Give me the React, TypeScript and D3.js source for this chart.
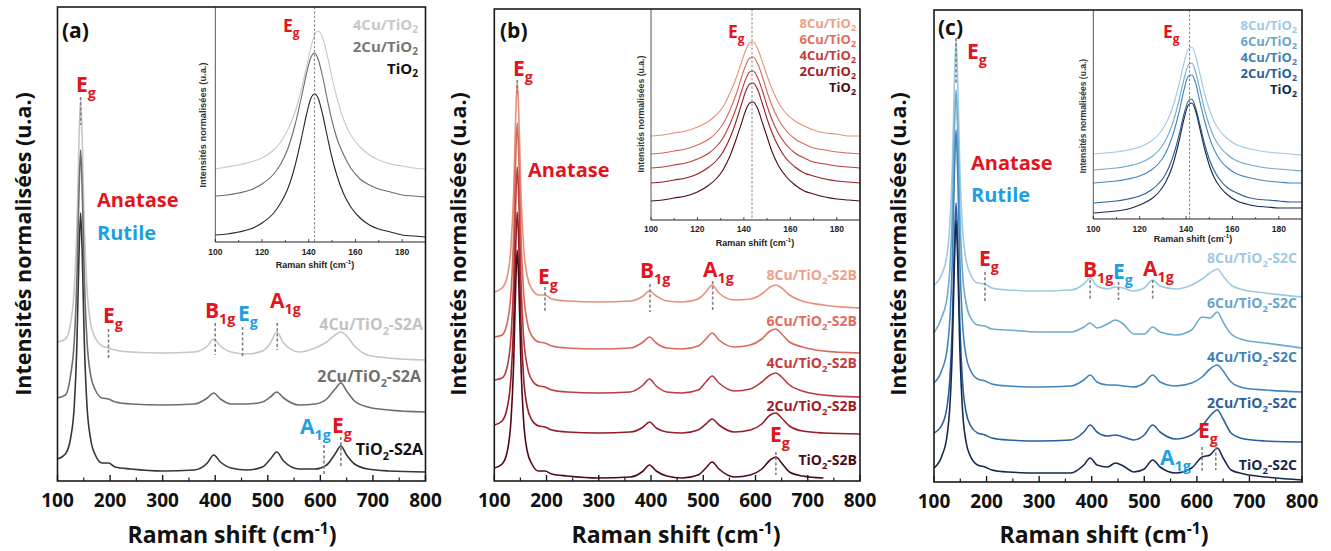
import React from "react";
import * as d3 from "d3";

// ---------------- data ----------------
const xTicks = [100, 200, 300, 400, 500, 600, 700, 800];
const xMinorTicks = [150, 250, 350, 450, 550, 650, 750];
const insetTicks = [100, 120, 140, 160, 180];
const insetMinorTicks = [110, 130, 150, 170];

// wavenumbers (cm-1) of the sampled points, panels (a) and (b)
const gridAB = [100, 115, 125, 132, 137, 141, 144, 147, 151, 156, 163, 172, 185, 197, 210, 240, 300, 360, 385, 397, 410, 430, 460, 490, 505, 517, 530, 560, 590, 612, 628, 639, 650, 665, 690, 730, 800];
// panel (c)
const gridC = [100, 115, 125, 130, 135, 139, 142, 145, 149, 154, 161, 170, 183, 197, 210, 240, 300, 360, 385, 397, 410, 430, 445, 460, 480, 500, 516, 530, 560, 590, 610, 625, 639, 650, 665, 690, 730, 800];
// insets
const insetGrid = [100, 105, 110, 115, 120, 125, 128, 131, 134, 137, 139, 141, 142.5, 144, 146, 148, 150, 152, 155, 158, 162, 166, 170, 175, 180, 185, 190];

// panel (a) – stacked normalised intensities
const cu4A = [139, 142, 158, 193, 256, 342, 381, 342, 256, 193, 158, 143, 135, 133, 131, 129, 128, 129, 135, 142, 135, 129, 127, 130, 138, 149, 138, 129, 133, 139, 146, 149, 145, 135, 126, 123, 121];
const cu2A = [83, 86, 106, 141, 204, 291, 331, 291, 204, 141, 106, 91, 83, 82, 79, 77, 76, 77, 83, 88, 82, 77, 77, 79, 84, 89, 83, 76, 77, 82, 92, 98, 90, 80, 74, 71, 69];
const tio2A = [22, 27, 43, 76, 139, 228, 268, 228, 139, 76, 42, 26, 18, 18, 14, 12, 10, 11, 18, 26, 19, 13, 11, 14, 22, 29, 20, 12, 12, 16, 27, 35, 26, 17, 12, 10, 9];
const cu4Ai = [73, 75, 77, 80, 84, 92, 100, 112, 129, 154, 175, 195, 207, 211, 204, 186, 164, 145, 122, 107, 95, 87, 82, 78, 76, 74, 73];
const cu2Ai = [46, 47, 49, 52, 58, 68, 78, 93, 116, 146, 168, 185, 189, 183, 165, 142, 121, 104, 87, 74, 63, 57, 53, 50, 47, 46, 45];
const tio2Ai = [7, 8, 10, 13, 19, 29, 39, 53, 75, 105, 127, 144, 148, 144, 127, 105, 84, 67, 48, 35, 24, 17, 13, 10, 7, 6, 5];

// panel (b)
const cu8B = [189, 193, 205, 235, 289, 365, 399, 365, 289, 235, 205, 192, 186, 186, 182, 180, 179, 180, 185, 190, 185, 180, 179, 182, 189, 196, 188, 181, 182, 187, 194, 196, 193, 186, 180, 176, 173];
const cu6B = [144, 146, 159, 189, 245, 323, 358, 323, 245, 189, 159, 145, 139, 138, 135, 133, 132, 133, 139, 144, 138, 133, 132, 135, 142, 148, 141, 134, 136, 142, 150, 152, 147, 139, 134, 130, 128];
const cu4B = [101, 103, 115, 145, 201, 279, 314, 279, 201, 145, 115, 101, 95, 94, 91, 89, 88, 89, 96, 102, 95, 89, 88, 91, 99, 105, 98, 90, 92, 99, 106, 108, 104, 96, 90, 86, 84];
const cu2B = [56, 60, 74, 104, 158, 235, 269, 235, 158, 104, 74, 61, 55, 54, 51, 49, 48, 49, 54, 59, 53, 49, 48, 51, 57, 62, 56, 49, 51, 57, 66, 68, 63, 55, 50, 48, 47];
const tio2B: (number | null)[] = [13, 17, 30, 61, 117, 196, 231, 196, 117, 61, 30, 17, 10, 10, 7, 5, 3, 4, 10, 16, 10, 5, 3, 6, 13, 19, 12, 4, 6, 12, 21, 24, 18, 9, 5, 3, null];
const cu8Bi = [84, 85, 87, 89, 93, 99, 105, 113, 127, 144, 158, 171, 177, 178, 171, 158, 144, 132, 117, 107, 99, 94, 90, 87, 86, 84, 84];
const cu6Bi = [66, 67, 69, 71, 75, 81, 87, 96, 110, 128, 143, 156, 162, 163, 156, 143, 128, 115, 100, 90, 81, 76, 72, 70, 68, 67, 66];
const cu4Bi = [52, 53, 55, 57, 61, 67, 73, 82, 96, 114, 129, 142, 148, 149, 142, 129, 114, 101, 86, 76, 67, 62, 58, 56, 54, 53, 52];
const cu2Bi = [37, 38, 40, 42, 46, 53, 59, 68, 82, 101, 116, 130, 136, 137, 130, 116, 101, 88, 73, 62, 53, 47, 44, 41, 39, 38, 37];
const tio2Bi = [19, 20, 22, 24, 28, 35, 41, 50, 64, 83, 97, 111, 117, 118, 111, 97, 83, 69, 54, 44, 35, 29, 26, 23, 21, 20, 19];

// panel (c)
const cu8C = [197, 208, 228, 256, 317, 403, 442, 403, 317, 256, 222, 207, 199, 198, 194, 192, 191, 192, 198, 204, 196, 193, 195, 194, 191, 194, 202, 196, 193, 197, 203, 209, 213, 206, 197, 192, 189, 185];
const cu6C = [149, 165, 185, 211, 271, 354, 392, 354, 271, 211, 179, 164, 157, 156, 153, 152, 150, 150, 155, 159, 154, 158, 162, 158, 148, 148, 155, 150, 147, 152, 165, 164, 170, 160, 148, 142, 139, 134];
const cu4C = [99, 112, 133, 161, 224, 311, 352, 311, 224, 161, 126, 111, 103, 101, 98, 96, 95, 96, 102, 107, 100, 97, 97, 96, 95, 99, 107, 100, 96, 99, 105, 113, 117, 111, 100, 94, 92, 90];
const cu2C = [49, 57, 76, 102, 161, 242, 279, 242, 161, 102, 70, 56, 49, 47, 44, 42, 41, 42, 50, 57, 50, 46, 47, 45, 42, 47, 57, 50, 43, 47, 56, 66, 72, 63, 49, 43, 41, 40];
const tio2C = [14, 26, 47, 74, 136, 223, 262, 223, 136, 74, 40, 25, 17, 15, 12, 10, 9, 9, 17, 24, 17, 15, 19, 16, 10, 13, 22, 15, 9, 14, 25, 27, 34, 24, 12, 8, 5, 2];
const cu8Ci = [65, 66, 67, 69, 72, 78, 84, 94, 110, 135, 155, 170, 172, 164, 145, 125, 110, 98, 87, 80, 74, 71, 69, 67, 66, 65, 64];
const cu6Ci = [49, 50, 51, 53, 56, 62, 68, 78, 94, 119, 139, 154, 156, 148, 129, 109, 94, 82, 71, 64, 58, 55, 53, 51, 50, 49, 48];
const cu4Ci = [36, 37, 38, 40, 43, 49, 55, 65, 82, 107, 128, 143, 144, 137, 117, 98, 82, 70, 58, 51, 45, 42, 40, 38, 37, 36, 36];
const cu2Ci = [16, 17, 18, 20, 23, 29, 35, 44, 60, 84, 104, 118, 120, 112, 94, 75, 60, 49, 38, 31, 26, 22, 20, 19, 18, 17, 17];
const tio2Ci = [6, 7, 8, 10, 14, 20, 26, 36, 52, 78, 99, 114, 116, 109, 90, 70, 54, 42, 31, 24, 18, 15, 13, 12, 11, 11, 11];

// ---------------- styles ----------------
const MAIN = "'Open Sans', 'Noto Sans', 'DejaVu Sans', sans-serif";
const SMALL = "'Liberation Sans', Arial, sans-serif";
const RED = "#e3141d";
const BLUE = "#1f9fe2";
const DASH = "#808080";

const colorsA = ["#c6c6c6", "#6e6e6e", "#363636"];
const colorsB = ["#e8907a", "#d8685a", "#bb3c3c", "#961c26", "#4e0a18"];
const colorsC = ["#9ccae2", "#6caace", "#4185bd", "#2a5f9c", "#15294f"];

type Part = { t: string; s?: "sub" | "sup" };

function Rich(props: { x: number; y: number; parts: Part[]; size: number; fill: string; anchor?: string; family?: string; weight?: number; subDrop?: number }) {
  const { x, y, parts, size, fill, anchor = "start", family = MAIN, weight = 700, subDrop = 0.3 } = props;
  let shift = 0;
  const spans = parts.map((p, i) => {
    const target = p.s === "sub" ? size * subDrop : p.s === "sup" ? -size * 0.4 : 0;
    const dy = target - shift;
    shift = target;
    return (
      <tspan key={i} dy={dy} fontSize={p.s ? size * 0.68 : size}>
        {p.t}
      </tspan>
    );
  });
  return (
    <text x={x} y={y} fill={fill} fontSize={size} fontWeight={weight} fontFamily={family} textAnchor={anchor as any}>
      {spans}
    </text>
  );
}

const sym = (b: string, s: string): Part[] => [{ t: b }, { t: s, s: "sub" }];
const tiLab = (pre: string, post: string): Part[] => [{ t: pre + "TiO" }, { t: "2", s: "sub" }, { t: post }];
const ramanTitle: Part[] = [{ t: "Raman shift (cm" }, { t: "-1", s: "sup" }, { t: ")" }];

function DashV({ x, y1, y2 }: { x: number; y1: number; y2: number }) {
  return <line x1={x} x2={x} y1={y1} y2={y2} stroke={DASH} strokeWidth={1.6} strokeDasharray="3,2.2" />;
}

interface Layout {
  x0: number; x1: number; top: number; bottom: number;
  ix0: number; ibottom: number;
  iTickY: number; iTitleY: number; iTitleX: number; iYTitleX: number; iYTitleY: number; iYSize: number;
  yTitleX: number; xTitleX: number;
}

function Panel(p: {
  L: Layout; grid: number[]; series: (number | null)[][]; colors: string[];
  iSeries: number[][]; iColors: string[]; iDash: number;
  children: (xs: d3.ScaleLinear<number, number>) => React.ReactNode;
}) {
  const { L } = p;
  const xs = d3.scaleLinear().domain([100, 800]).range([L.x0, L.x1]);
  const ys = d3.scaleLinear().domain([0, L.bottom - L.top]).range([L.bottom, L.top]);
  const ixs = d3.scaleLinear().domain([100, 190]).range([L.ix0, L.x1]);
  const iys = d3.scaleLinear().domain([0, L.ibottom - L.top]).range([L.ibottom, L.top]);
  const mainLine = d3
    .line<number | null>()
    .defined((v) => v !== null)
    .x((_, j) => xs(p.grid[j]))
    .y((v) => ys(v as number))
    .curve(d3.curveMonotoneX);
  const insetLine = d3
    .line<number>()
    .x((_, j) => ixs(insetGrid[j]))
    .y((v) => iys(v))
    .curve(d3.curveMonotoneX);
  return (
    <g>
      {/* inset */}
      {p.iSeries.map((s, i) => (
        <path key={"i" + i} d={insetLine(s) || ""} fill="none" stroke={p.iColors[i]} strokeWidth={1.1} />
      ))}
      <line x1={ixs(p.iDash)} x2={ixs(p.iDash)} y1={L.top} y2={L.ibottom} stroke="#777" strokeWidth={0.9} strokeDasharray="2.5,1.8" />
      <line x1={L.ix0} x2={L.ix0} y1={L.top} y2={L.ibottom} stroke="#555" strokeWidth={1} />
      <line x1={L.ix0} x2={L.x1} y1={L.ibottom} y2={L.ibottom} stroke="#222" strokeWidth={1} />
      {insetTicks.map((t) => (
        <line key={"it" + t} x1={ixs(t)} x2={ixs(t)} y1={L.ibottom} y2={L.ibottom - 3} stroke="#222" strokeWidth={0.8} />
      ))}
      {insetMinorTicks.map((t) => (
        <line key={"imt" + t} x1={ixs(t)} x2={ixs(t)} y1={L.ibottom} y2={L.ibottom - 2} stroke="#222" strokeWidth={0.8} />
      ))}
      {insetTicks.map((t) => (
        <text key={"itl" + t} x={ixs(t)} y={L.iTickY} fontSize={8.5} fontWeight={700} fontFamily={SMALL} fill="#222" textAnchor="middle">
          {t}
        </text>
      ))}
      <Rich x={L.iTitleX} y={L.iTitleY} parts={ramanTitle} size={9} fill="#222" anchor="middle" family={SMALL} />
      <text
        transform={`translate(${L.iYTitleX},${L.iYTitleY}) rotate(-90)`}
        textAnchor="middle"
        dominantBaseline="central"
        fontSize={L.iYSize}
        fontWeight={700}
        fontFamily={SMALL}
        fill="#333"
      >
        Intensités normalisées (u.a.)
      </text>

      {/* main spectra */}
      {p.series.map((s, i) => (
        <path key={"m" + i} d={mainLine(s) || ""} fill="none" stroke={p.colors[i]} strokeWidth={1.6} strokeLinejoin="round" />
      ))}

      {/* frame & axis */}
      <rect x={L.x0} y={L.top} width={L.x1 - L.x0} height={L.bottom - L.top} fill="none" stroke="#1a1a1a" strokeWidth={1.6} />
      {xTicks.map((t) => (
        <line key={"t" + t} x1={xs(t)} x2={xs(t)} y1={L.bottom} y2={L.bottom - 6} stroke="#1a1a1a" strokeWidth={1.4} />
      ))}
      {xMinorTicks.map((t) => (
        <line key={"mt" + t} x1={xs(t)} x2={xs(t)} y1={L.bottom} y2={L.bottom - 3.5} stroke="#1a1a1a" strokeWidth={1.2} />
      ))}
      {xTicks.map((t) => (
        <text key={"tl" + t} x={xs(t)} y={L.bottom + 26} fontSize={19} fontWeight={700} fontFamily={MAIN} textAnchor="middle" fill="#111">
          {t}
        </text>
      ))}
      <Rich x={L.xTitleX} y={543} parts={ramanTitle} size={23} fill="#111" anchor="middle" />
      <text
        transform={`translate(${L.yTitleX},244) rotate(-90)`}
        textAnchor="middle"
        dominantBaseline="central"
        fontSize={21.5}
        fontWeight={700}
        fontFamily={MAIN}
        fill="#111"
      >
        Intensités normalisées (u.a.)
      </text>
      {p.children(xs)}
    </g>
  );
}

const layoutA: Layout = {
  x0: 57.5, x1: 425.5, top: 7, bottom: 481, ix0: 215.3, ibottom: 242,
  iTickY: 255, iTitleY: 268, iTitleX: 315, iYTitleX: 202.5, iYTitleY: 125, iYSize: 9.3,
  yTitleX: 22, xTitleX: 232,
};
const layoutB: Layout = {
  x0: 494.3, x1: 860, top: 9, bottom: 481, ix0: 651, ibottom: 220,
  iTickY: 232, iTitleY: 246, iTitleX: 755, iYTitleX: 640.5, iYTitleY: 114, iYSize: 8.7,
  yTitleX: 457, xTitleX: 676,
};
const layoutC: Layout = {
  x0: 934, x1: 1302, top: 10, bottom: 482, ix0: 1093.3, ibottom: 219,
  iTickY: 231.5, iTitleY: 242, iTitleX: 1193, iYTitleX: 1083, iYTitleY: 116, iYSize: 8.5,
  yTitleX: 897, xTitleX: 1104,
};

export default function App() {
  return (
    <svg width={1331} height={551} style={{ position: "absolute", left: 0, top: 0, background: "#fff" }}>
      {/* ---------- (a) ---------- */}
      <Panel
        L={layoutA}
        grid={gridAB}
        series={[cu4A, cu2A, tio2A]}
        colors={colorsA}
        iSeries={[cu4Ai, cu2Ai, tio2Ai]}
        iColors={["#c8c8c8", "#6a6a6a", "#262626"]}
        iDash={142.5}
      >
        {(xs) => (
          <g>
            <text x={62} y={38} fontSize={21} fontWeight={700} fontFamily={MAIN} fill="#111">(a)</text>
            <Rich x={76} y={92} parts={sym("E", "g")} size={21} fill={RED} />
            <DashV x={xs(144)} y1={97} y2={125} />
            <Rich x={97} y={207} parts={[{ t: "Anatase" }]} size={20} fill={RED} />
            <Rich x={97} y={240} parts={[{ t: "Rutile" }]} size={20} fill={BLUE} />
            <Rich x={103} y={323} parts={sym("E", "g")} size={21} fill={RED} />
            <DashV x={xs(197)} y1={329} y2={360} />
            <Rich x={205} y={318} parts={sym("B", "1g")} size={21} fill={RED} />
            <DashV x={xs(400)} y1={323} y2={355} />
            <Rich x={238} y={321} parts={sym("E", "g")} size={21} fill={BLUE} />
            <DashV x={xs(452)} y1={327} y2={357} />
            <Rich x={270} y={308} parts={sym("A", "1g")} size={21} fill={RED} />
            <DashV x={xs(518)} y1={323} y2={350} />
            <Rich x={423} y={330} parts={tiLab("4Cu/", "-S2A")} size={16} fill="#c2c2c2" anchor="end" />
            <Rich x={421} y={382} parts={tiLab("2Cu/", "-S2A")} size={16} fill="#707070" anchor="end" />
            <Rich x={300} y={434} parts={sym("A", "1g")} size={21} fill={BLUE} />
            <DashV x={xs(607)} y1={445} y2={475} />
            <Rich x={332} y={433} parts={sym("E", "g")} size={21} fill={RED} />
            <DashV x={xs(639)} y1={437} y2={467} />
            <Rich x={423} y={455} parts={tiLab("", "-S2A")} size={16} fill="#111" anchor="end" />
            {/* inset labels */}
            <Rich x={283} y={32} parts={sym("E", "g")} size={17.5} fill={RED} />
            <Rich x={418} y={30} parts={tiLab("4Cu/", "")} size={15} fill="#c8c8c8" anchor="end" subDrop={0.22} />
            <Rich x={418} y={52} parts={tiLab("2Cu/", "")} size={15} fill="#777" anchor="end" subDrop={0.22} />
            <Rich x={418} y={74} parts={tiLab("", "")} size={15} fill="#111" anchor="end" subDrop={0.22} />
          </g>
        )}
      </Panel>

      {/* ---------- (b) ---------- */}
      <Panel
        L={layoutB}
        grid={gridAB}
        series={[cu8B, cu6B, cu4B, cu2B, tio2B]}
        colors={colorsB}
        iSeries={[cu8Bi, cu6Bi, cu4Bi, cu2Bi, tio2Bi]}
        iColors={colorsB}
        iDash={143.5}
      >
        {(xs) => (
          <g>
            <text x={500} y={38} fontSize={21} fontWeight={700} fontFamily={MAIN} fill="#111">(b)</text>
            <Rich x={513} y={76} parts={sym("E", "g")} size={21} fill={RED} />
            <DashV x={xs(144)} y1={80} y2={95} />
            <Rich x={528} y={177} parts={[{ t: "Anatase" }]} size={20} fill={RED} />
            <Rich x={538} y={284} parts={sym("E", "g")} size={21} fill={RED} />
            <DashV x={xs(197)} y1={287} y2={313} />
            <Rich x={640} y={278} parts={sym("B", "1g")} size={21} fill={RED} />
            <DashV x={xs(398)} y1={284} y2={312} />
            <Rich x={703} y={277} parts={sym("A", "1g")} size={21} fill={RED} />
            <DashV x={xs(518)} y1={281} y2={310} />
            <Rich x={857} y={280} parts={tiLab("8Cu/", "-S2B")} size={14} fill="#eea088" anchor="end" />
            <Rich x={857} y={326} parts={tiLab("6Cu/", "-S2B")} size={14} fill="#de6e5e" anchor="end" />
            <Rich x={857} y={368} parts={tiLab("4Cu/", "-S2B")} size={14} fill="#c63a3c" anchor="end" />
            <Rich x={857} y={411} parts={tiLab("2Cu/", "-S2B")} size={14} fill="#a01c28" anchor="end" />
            <Rich x={770} y={442} parts={sym("E", "g")} size={21} fill={RED} />
            <DashV x={xs(639)} y1={452} y2={475} />
            <Rich x={857} y={465} parts={tiLab("", "-S2B")} size={14} fill="#4e0a18" anchor="end" />
            {/* inset labels */}
            <Rich x={728} y={38} parts={sym("E", "g")} size={17.5} fill={RED} />
            <Rich x={856} y={28} parts={tiLab("8Cu/", "")} size={13} fill="#eea088" anchor="end" subDrop={0.2} />
            <Rich x={856} y={44} parts={tiLab("6Cu/", "")} size={13} fill="#de6e5e" anchor="end" subDrop={0.2} />
            <Rich x={856} y={60} parts={tiLab("4Cu/", "")} size={13} fill="#c63a3c" anchor="end" subDrop={0.2} />
            <Rich x={856} y={76} parts={tiLab("2Cu/", "")} size={13} fill="#a01c28" anchor="end" subDrop={0.2} />
            <Rich x={856} y={92} parts={tiLab("", "")} size={13} fill="#4e0a18" anchor="end" subDrop={0.2} />
          </g>
        )}
      </Panel>

      {/* ---------- (c) ---------- */}
      <Panel
        L={layoutC}
        grid={gridC}
        series={[cu8C, cu6C, cu4C, cu2C, tio2C]}
        colors={colorsC}
        iSeries={[cu8Ci, cu6Ci, cu4Ci, cu2Ci, tio2Ci]}
        iColors={colorsC}
        iDash={141.5}
      >
        {(xs) => (
          <g>
            <text x={938} y={35} fontSize={21} fontWeight={700} fontFamily={MAIN} fill="#111">(c)</text>
            <Rich x={967} y={59} parts={sym("E", "g")} size={21} fill={RED} />
            <DashV x={xs(142)} y1={38} y2={83} />
            <Rich x={971} y={170} parts={[{ t: "Anatase" }]} size={20} fill={RED} />
            <Rich x={971} y={202} parts={[{ t: "Rutile" }]} size={20} fill={BLUE} />
            <Rich x={979} y={266} parts={sym("E", "g")} size={21} fill={RED} />
            <DashV x={xs(197)} y1={272} y2={302} />
            <Rich x={1083} y={277} parts={sym("B", "1g")} size={21} fill={RED} />
            <DashV x={xs(397)} y1={280} y2={300} />
            <Rich x={1113} y={279} parts={sym("E", "g")} size={21} fill={BLUE} />
            <DashV x={xs(451)} y1={282} y2={300} />
            <Rich x={1143} y={276} parts={sym("A", "1g")} size={21} fill={RED} />
            <DashV x={xs(516)} y1={280} y2={300} />
            <Rich x={1297} y={263} parts={tiLab("8Cu/", "-S2C")} size={14} fill="#9ccae2" anchor="end" />
            <Rich x={1297} y={308} parts={tiLab("6Cu/", "-S2C")} size={14} fill="#68a6cc" anchor="end" />
            <Rich x={1297} y={362} parts={tiLab("4Cu/", "-S2C")} size={14} fill="#3f82bb" anchor="end" />
            <Rich x={1297} y={408} parts={tiLab("2Cu/", "-S2C")} size={14} fill="#2a5f9c" anchor="end" />
            <Rich x={1198} y={438} parts={sym("E", "g")} size={21} fill={RED} />
            <DashV x={xs(636)} y1={442} y2={470} />
            <Rich x={1160} y={465} parts={sym("A", "1g")} size={21} fill={BLUE} />
            <DashV x={xs(610)} y1={447} y2={473} />
            <Rich x={1297} y={470} parts={tiLab("", "-S2C")} size={14} fill="#15294f" anchor="end" />
            {/* inset labels */}
            <Rich x={1163} y={38} parts={sym("E", "g")} size={17.5} fill={RED} />
            <Rich x={1297} y={30} parts={tiLab("8Cu/", "")} size={13} fill="#9ccae2" anchor="end" subDrop={0.2} />
            <Rich x={1297} y={46} parts={tiLab("6Cu/", "")} size={13} fill="#68a6cc" anchor="end" subDrop={0.2} />
            <Rich x={1297} y={62} parts={tiLab("4Cu/", "")} size={13} fill="#3f82bb" anchor="end" subDrop={0.2} />
            <Rich x={1297} y={78} parts={tiLab("2Cu/", "")} size={13} fill="#2a5f9c" anchor="end" subDrop={0.2} />
            <Rich x={1297} y={94} parts={tiLab("", "")} size={13} fill="#15294f" anchor="end" subDrop={0.2} />
          </g>
        )}
      </Panel>
    </svg>
  );
}
